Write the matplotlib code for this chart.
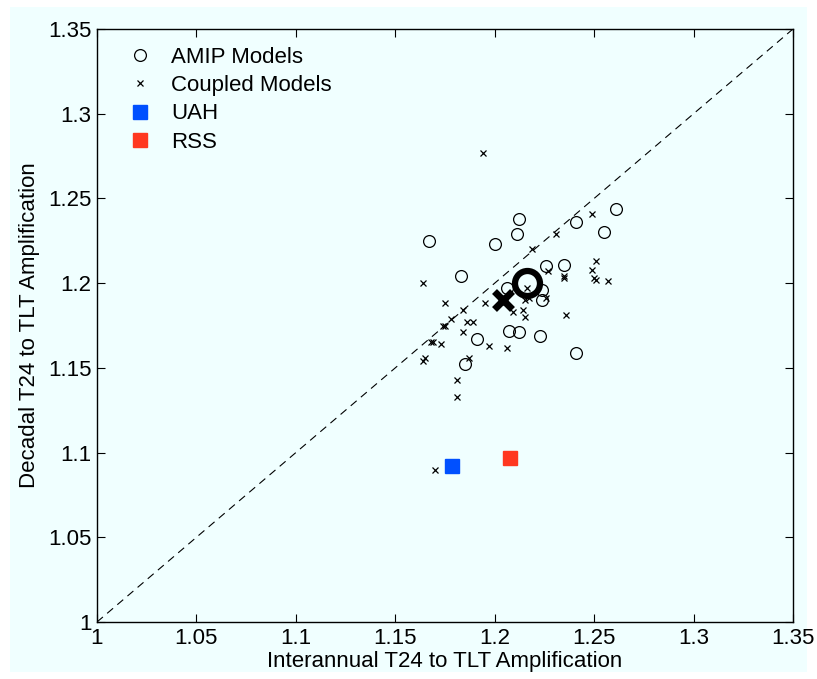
import matplotlib.pyplot as plt
from matplotlib.patches import Rectangle
import numpy as np

plt.rcParams['font.family'] = ['Liberation Sans', 'DejaVu Sans']

# AMIP models (interannual, decadal)
amip_x = [1.167, 1.200, 1.212, 1.211, 1.241, 1.261, 1.255, 1.183, 1.226, 1.235,
          1.206, 1.224, 1.224, 1.207, 1.212, 1.223, 1.241, 1.191, 1.185]
amip_y = [1.225, 1.223, 1.238, 1.229, 1.236, 1.244, 1.230, 1.204, 1.210, 1.211,
          1.197, 1.196, 1.190, 1.172, 1.171, 1.169, 1.159, 1.167, 1.152]

# Coupled models
cpl_x = [1.194, 1.249, 1.231, 1.219, 1.251, 1.249, 1.227, 1.235, 1.235, 1.250,
         1.251, 1.257, 1.164, 1.175, 1.184, 1.195, 1.209, 1.214, 1.215, 1.226,
         1.236, 1.215, 1.217, 1.178, 1.174, 1.175, 1.186, 1.189, 1.184, 1.168,
         1.169, 1.173, 1.197, 1.206, 1.165, 1.164, 1.187, 1.181, 1.181, 1.170,
         1.216]
cpl_y = [1.277, 1.241, 1.229, 1.220, 1.213, 1.208, 1.207, 1.204, 1.203, 1.203,
         1.202, 1.201, 1.200, 1.188, 1.184, 1.188, 1.183, 1.184, 1.180, 1.191,
         1.181, 1.190, 1.191, 1.179, 1.175, 1.175, 1.177, 1.177, 1.171, 1.165,
         1.165, 1.164, 1.163, 1.162, 1.156, 1.154, 1.156, 1.143, 1.133, 1.090,
         1.197]

# Multi-model means
amip_mean = (1.216, 1.200)
cpl_mean = (1.204, 1.190)

# Observations
uah = (1.1785, 1.092)
rss = (1.2077, 1.097)

fig = plt.figure(figsize=(8.17, 6.79), dpi=100, facecolor='white')
fig.patches.append(Rectangle((10 / 817, 7 / 679), 797 / 817, 665 / 679,
                             transform=fig.transFigure, facecolor='#F0FFFF',
                             edgecolor='none', zorder=-1))
ax = fig.add_axes([97 / 817, 1 - 622 / 679, 696 / 817, 593 / 679])
ax.set_facecolor('#F0FFFF')

lims = [1, 1.35]
ax.plot(lims, lims, 'k--', lw=0.8, dashes=(7, 5))

ax.plot(amip_x, amip_y, 'o', mfc='none', mec='k', ms=8.5, mew=0.9,
        label='AMIP Models')
ax.plot(cpl_x, cpl_y, 'x', color='k', ms=5, mew=0.9, label='Coupled Models')
ax.plot(*uah, 's', color='#0050FF', ms=9.5, label='UAH')
ax.plot(*rss, 's', color='#FF3820', ms=9.5, label='RSS')

ax.plot(*amip_mean, 'o', mfc='none', mec='k', ms=18, mew=4.5)
ax.plot(*cpl_mean, 'x', color='k', ms=13, mew=5)

ticks = np.arange(1, 1.351, 0.05)
tick_labels = ['1', '1.05', '1.1', '1.15', '1.2', '1.25', '1.3', '1.35']
ax.set_xlim(lims)
ax.set_ylim(lims)
ax.set_xticks(ticks)
ax.set_yticks(ticks)
ax.set_xticklabels(tick_labels)
ax.set_yticklabels(tick_labels)
ax.tick_params(direction='in', top=True, right=True, labelsize=16,
               length=6, width=0.8, pad=4)
for s in ax.spines.values():
    s.set_linewidth(1.0)

ax.set_xlabel('Interannual T24 to TLT Amplification', fontsize=16, labelpad=2)
ax.set_ylabel('Decadal T24 to TLT Amplification', fontsize=16, labelpad=6)

ax.legend(loc='upper left', frameon=False, fontsize=16, numpoints=1,
          handletextpad=0.3, labelspacing=0.33, borderaxespad=0.5,
          borderpad=0.3, handlelength=2.25)

fig.savefig('out.png', dpi=100, facecolor=fig.get_facecolor())
